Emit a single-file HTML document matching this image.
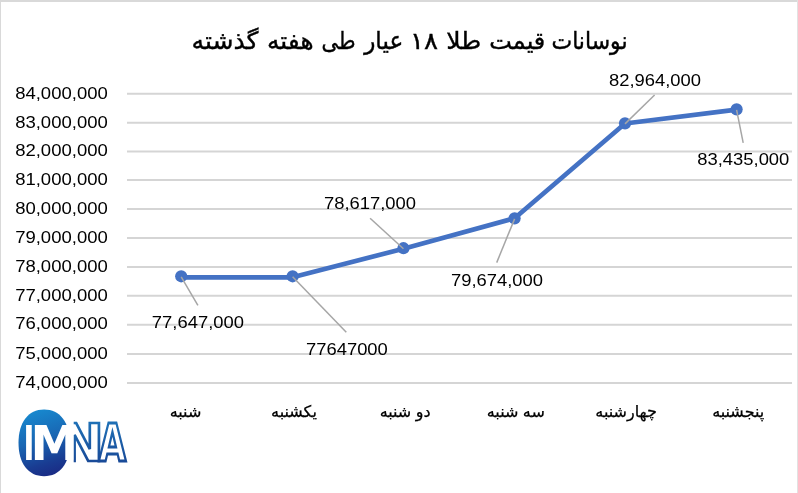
<!DOCTYPE html>
<html lang="fa">
<head>
<meta charset="utf-8">
<title>نوسانات قیمت طلا ۱۸ عیار طی هفته گذشته</title>
<style>
html,body{margin:0;padding:0;background:#fff;}
body{width:798px;height:493px;overflow:hidden;position:relative;}
svg{will-change:transform;display:block;position:absolute;left:0;top:0;}
.num{font-family:"Liberation Sans",sans-serif;font-size:17px;fill:#000;}
.fa{font-family:"Liberation Sans","DejaVu Sans",sans-serif;fill:#000;}
</style>
</head>
<body>
<svg width="798" height="493" viewBox="0 0 798 493">
  <defs>
    <linearGradient id="gEl" x1="0.35" y1="0" x2="0.6" y2="1">
      <stop offset="0" stop-color="#1789cf"/>
      <stop offset="0.45" stop-color="#1966b3"/>
      <stop offset="0.8" stop-color="#193c92"/>
      <stop offset="1" stop-color="#1a2b85"/>
    </linearGradient>
    <linearGradient id="gOut" x1="0" y1="0" x2="0" y2="1">
      <stop offset="0" stop-color="#2079bd"/>
      <stop offset="1" stop-color="#173f8f"/>
    </linearGradient>
    <clipPath id="clipN"><rect x="73.7" y="400" width="80" height="90"/></clipPath>
  </defs>
  <rect x="0" y="0" width="798" height="493" fill="#ffffff"/>
  <!-- frame -->
  <rect x="0" y="0" width="798" height="2" fill="#d9d9d9"/>
  <rect x="0" y="0" width="1" height="493" fill="#d9d9d9"/>
  <rect x="797" y="0" width="1" height="493" fill="#e2e2e2"/>

  <!-- title -->
  <text id="title" class="fa" y="49.4" font-size="24" stroke="#000" stroke-width="0.4" text-anchor="start" direction="rtl"><tspan x="627.5" textLength="76" lengthAdjust="spacingAndGlyphs">نوسانات</tspan> <tspan x="545.3" textLength="56" lengthAdjust="spacingAndGlyphs">قیمت</tspan> <tspan x="481.3" textLength="35" lengthAdjust="spacingAndGlyphs">طلا</tspan> <tspan x="438" textLength="28" lengthAdjust="spacingAndGlyphs">۱۸</tspan> <tspan x="403.2" textLength="39" lengthAdjust="spacingAndGlyphs">عیار</tspan> <tspan x="355.5" textLength="34" lengthAdjust="spacingAndGlyphs">طی</tspan> <tspan x="313.5" textLength="46.5" lengthAdjust="spacingAndGlyphs">هفته</tspan> <tspan x="258.5" textLength="67" lengthAdjust="spacingAndGlyphs">گذشته</tspan></text>

  <!-- gridlines -->
  <g stroke="#d5d5d5" stroke-width="2" fill="none">
    <line x1="127" y1="93.85" x2="792" y2="93.85"/>
    <line x1="127" y1="122.8" x2="792" y2="122.8"/>
    <line x1="127" y1="151.4" x2="792" y2="151.4"/>
    <line x1="127" y1="180.1" x2="792" y2="180.1"/>
    <line x1="127" y1="208.9" x2="792" y2="208.9"/>
    <line x1="127" y1="237.9" x2="792" y2="237.9"/>
    <line x1="127" y1="266.9" x2="792" y2="266.9"/>
    <line x1="127" y1="295.8" x2="792" y2="295.8"/>
    <line x1="127" y1="324.7" x2="792" y2="324.7"/>
    <line x1="127" y1="353.9" x2="792" y2="353.9"/>
    <line x1="127" y1="382.9" x2="792" y2="382.9"/>
  </g>

  <!-- y axis labels -->
  <g class="num" text-anchor="end">
    <text transform="translate(107.8,98.5) scale(1.09,1)">84,000,000</text>
    <text transform="translate(107.8,127.5) scale(1.09,1)">83,000,000</text>
    <text transform="translate(107.8,156.1) scale(1.09,1)">82,000,000</text>
    <text transform="translate(107.8,184.8) scale(1.09,1)">81,000,000</text>
    <text transform="translate(107.8,213.6) scale(1.09,1)">80,000,000</text>
    <text transform="translate(107.8,242.6) scale(1.09,1)">79,000,000</text>
    <text transform="translate(107.8,271.6) scale(1.09,1)">78,000,000</text>
    <text transform="translate(107.8,300.5) scale(1.09,1)">77,000,000</text>
    <text transform="translate(107.8,329.4) scale(1.09,1)">76,000,000</text>
    <text transform="translate(107.8,358.6) scale(1.09,1)">75,000,000</text>
    <text transform="translate(107.8,387.6) scale(1.09,1)">74,000,000</text>
  </g>

  <!-- series line -->
  <polyline points="181.2,277.3 292.6,277.3 403.45,248.7 514.6,218.2 625,123.5 736.6,109.7" fill="none" stroke="#4472c4" stroke-width="4.7" stroke-linejoin="round" stroke-linecap="round"/>
  <g fill="#4472c4">
    <circle cx="181.2" cy="276.3" r="6.1"/>
    <circle cx="292.6" cy="276.3" r="6.1"/>
    <circle cx="403.45" cy="248.2" r="6.1"/>
    <circle cx="514.6" cy="218.35" r="6.1"/>
    <circle cx="625" cy="123.35" r="6.1"/>
    <circle cx="736.6" cy="109.35" r="6.1"/>
  </g>

  <!-- leader lines -->
  <g stroke="#a6a6a6" stroke-width="1.5" fill="none">
    <line x1="181.2" y1="276.8" x2="197.9" y2="305.3"/>
    <line x1="292.6" y1="276.8" x2="346.3" y2="332.3"/>
    <line x1="403.45" y1="248.7" x2="370.1" y2="218.2"/>
    <line x1="514.6" y1="218.85" x2="496.7" y2="262.6"/>
    <line x1="625" y1="123.85" x2="654.6" y2="95"/>
    <line x1="736.6" y1="109.85" x2="743.2" y2="142.8"/>
  </g>

  <!-- data labels -->
  <g class="num" text-anchor="middle">
    <text transform="translate(197.9,327.5) scale(1.083,1)">77,647,000</text>
    <text transform="translate(346.9,355.2) scale(1.083,1)">77647000</text>
    <text transform="translate(370.0,208.9) scale(1.083,1)">78,617,000</text>
    <text transform="translate(497.0,285.7) scale(1.083,1)">79,674,000</text>
    <text transform="translate(655.0,85.7) scale(1.083,1)">82,964,000</text>
    <text transform="translate(743.3,164.9) scale(1.083,1)">83,435,000</text>
  </g>

  <!-- x axis labels -->
  <g class="fa" font-size="16" text-anchor="middle" direction="rtl" stroke="#000" stroke-width="0.25">
    <text x="185.5" y="417">شنبه</text>
    <text x="294" y="417">یکشنبه</text>
    <text x="405.1" y="417">دو شنبه</text>
    <text x="515.8" y="417">سه شنبه</text>
    <text x="626.1" y="417">چهارشنبه</text>
    <text x="738.2" y="417">پنجشنبه</text>
  </g>

  <!-- logo -->
  <g id="logo" font-family="Liberation Sans, sans-serif" font-weight="bold">
    <title>IMNA</title>
    <path d="M44.10,409.40 C59.97,409.40 69.70,422.11 69.70,442.85 C69.70,463.59 59.97,476.30 44.10,476.30 C28.23,476.30 18.50,463.59 18.50,442.85 C18.50,422.11 28.23,409.40 44.10,409.40Z" fill="url(#gEl)"/>
    <g fill="#fff">
      <text font-size="50" x="-3.345" y="0" transform="translate(26.1,460.4) scale(0.778,1)">I</text>
      <text font-family="DejaVu Sans, sans-serif" font-size="47.3" x="-4.342" y="0" transform="translate(34.8,460.4) scale(1.016,1)">M</text>
    </g>
    <g fill="#fff" stroke="url(#gOut)" stroke-width="2.7" stroke-linejoin="miter" clip-path="url(#clipN)">
      <text font-family="DejaVu Sans, sans-serif" font-size="51.85" x="-4.76" y="0" transform="translate(65.5,461.4) scale(0.9885,1)">N</text>
      <text font-family="DejaVu Sans, sans-serif" font-size="51.85" x="-0.254" y="0" transform="translate(99,461.4) scale(0.6815,1)" vector-effect="non-scaling-stroke">A</text>
    </g>
  </g>
</svg>
</body>
</html>
